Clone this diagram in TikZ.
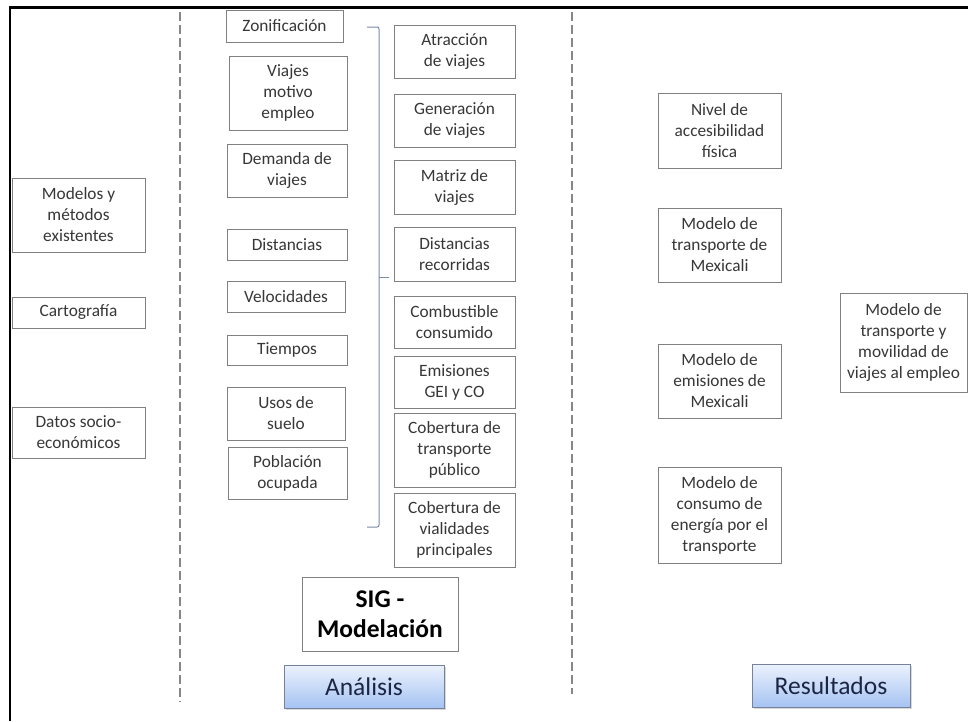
\documentclass[tikz,border=0pt]{standalone}
\usepackage{fontspec}
\setmainfont{Carlito}
\usetikzlibrary{shadows}
\definecolor{boxline}{RGB}{128,128,128}
\definecolor{boxtext}{RGB}{55,55,55}
\definecolor{bracecol}{RGB}{120,138,170}
\definecolor{tabtop}{RGB}{236,242,253}
\definecolor{tabbot}{RGB}{165,195,242}
\definecolor{tabline}{RGB}{118,130,155}
\definecolor{tabtext}{RGB}{28,38,68}
\definecolor{sepcol}{RGB}{135,135,135}
\tikzset{
  box/.style={draw=boxline, line width=0.8pt, fill=white, align=center,
    inner sep=0pt, text=boxtext, font=\fontsize{17.3}{21}\selectfont},
  bigbox/.style={box, text=black, font=\bfseries\fontsize{25.5}{30}\selectfont},
  tab/.style={draw=tabline, line width=0.9pt, top color=tabtop, bottom color=tabbot,
    text=tabtext, font=\fontsize{25.5}{30}\selectfont, inner sep=0pt,
    drop shadow={opacity=0.3, shadow xshift=1.5pt, shadow yshift=-2pt}},
  separator/.style={draw=sepcol, line width=1.8pt, dash pattern=on 9pt off 4pt},
  bracestyle/.style={draw=bracecol, line width=1pt, rounded corners=2pt},
  frameline/.style={draw=black}
}
\begin{document}
\begin{tikzpicture}[x=1pt, y=-1pt]
\useasboundingbox (0,0) rectangle (968,721);
\fill[white] (0,0) rectangle (968,721);

% outer frame (top and left edges)
\coordinate (ftl) at (10,7.3);
\coordinate (ftr) at (968,7.3);
\coordinate (fbl) at (10,721);
\draw[frameline, line width=3pt] (9,7.3) -- (ftr);
\draw[frameline, line width=2pt] (ftl) -- (fbl);

% column separators
\coordinate (s1a) at (180,12);
\coordinate (s1b) at (180,702);
\coordinate (s2a) at (572,12);
\coordinate (s2b) at (572,694);
\draw[separator] (s1a) -- (s1b);
\draw[separator] (s2a) -- (s2b);

% inputs
\node[box, minimum width=133, minimum height=74] (mme) at (78.5,215) {Modelos y\\métodos\\existentes};
\node[box, minimum width=133, minimum height=31] (carto) at (78.5,312.5) {Cartografía};
\node[box, minimum width=133, minimum height=51] (datos) at (78.5,432.5) {Datos socio-\\económicos};

% analysis, first column
\node[box, minimum width=117, minimum height=32] (zon) at (284.5,26) {Zonificación};
\node[box, minimum width=118, minimum height=74] (vme) at (288,93) {Viajes\\motivo\\empleo};
\node[box, minimum width=120, minimum height=53] (dem) at (287,170.5) {Demanda de\\viajes};
\node[box, minimum width=120, minimum height=31] (dist) at (287,244.5) {Distancias};
\node[box, minimum width=118, minimum height=31] (vel) at (286,296.5) {Velocidades};
\node[box, minimum width=120, minimum height=30] (tie) at (287,350) {Tiempos};
\node[box, minimum width=118, minimum height=53] (uso) at (286,413.5) {Usos de\\suelo};
\node[box, minimum width=119, minimum height=52] (pob) at (287.5,473) {Población\\ocupada};

% analysis, second column
\node[box, minimum width=121, minimum height=53] (atr) at (454.5,51.5) {Atracción\\de viajes};
\node[box, minimum width=121, minimum height=53] (gen) at (454.5,120.5) {Generación\\de viajes};
\node[box, minimum width=121, minimum height=54] (mat) at (454.5,187) {Matriz de\\viajes};
\node[box, minimum width=121, minimum height=54] (dre) at (454.5,254) {Distancias\\recorridas};
\node[box, minimum width=121, minimum height=52] (com) at (454.5,322) {Combustible\\consumido};
\node[box, minimum width=121, minimum height=52] (emi) at (454.5,382) {Emisiones\\GEI y CO};
\node[box, minimum width=121, minimum height=74] (ctp) at (454.5,450) {Cobertura de\\transporte\\público};
\node[box, minimum width=121, minimum height=74] (cvp) at (454.5,530) {Cobertura de\\vialidades\\principales};

% brace grouping the first column into the second
\coordinate (bt) at (367,27);
\coordinate (bb) at (367,527);
\coordinate (btip) at (389,277);
\draw[bracestyle] (bt) -- (379,27) -- (379,527) -- (bb);
\draw[draw=bracecol, line width=1pt] (379,277) -- (btip);

\node[bigbox, minimum width=156, minimum height=74] (sig) at (380,614) {SIG -\\Modelación};
\node[tab, minimum width=160, minimum height=43] (ana) at (364,686.5) {Análisis};

% results
\node[box, minimum width=123, minimum height=75] (niv) at (719.5,130.5) {Nivel de\\accesibilidad\\física};
\node[box, minimum width=123, minimum height=74] (mtm) at (719.5,245) {Modelo de\\transporte de\\Mexicali};
\node[box, minimum width=123, minimum height=74] (mem) at (719.5,381) {Modelo de\\emisiones de\\Mexicali};
\node[box, minimum width=123, minimum height=96] (mce) at (719.5,515) {Modelo de\\consumo de\\energía por el\\transporte};
\node[box, minimum width=127, minimum height=99] (mtv) at (903.5,342.5) {Modelo de\\transporte y\\movilidad de\\viajes al empleo};
\node[tab, minimum width=158, minimum height=43] (res) at (831,685.5) {Resultados};
\end{tikzpicture}
\end{document}
